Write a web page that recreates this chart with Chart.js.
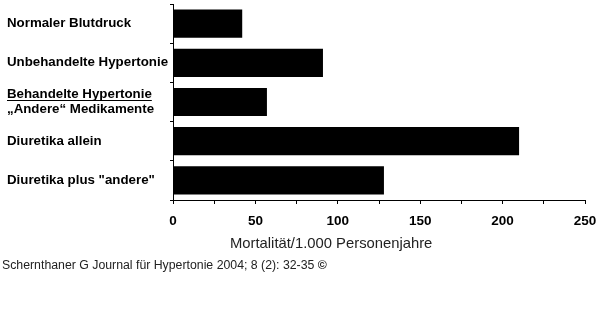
<!DOCTYPE html>
<html>
<head>
<meta charset="utf-8">
<script src="https://cdn.jsdelivr.net/npm/chart.js@4/dist/chart.umd.min.js"></script>
<style>
  html, body { margin: 0; padding: 0; background: #fff; }
  #wrap { position: relative; width: 600px; height: 316px; }
  #axisTitle { position: absolute; left: 230px; top: 235px; font: 14.8px "Liberation Sans", Arial, sans-serif; color: #222; white-space: nowrap; }
  #source { position: absolute; left: 2px; top: 258px; font: 12.3px "Liberation Sans", Arial, sans-serif; color: #222; white-space: nowrap; }
</style>
</head>
<body>
<div id="wrap">
  <canvas id="c" width="600" height="316"></canvas>
  <div id="axisTitle">Mortalität/1.000 Personenjahre</div>
  <div id="source">Schernthaner G Journal für Hypertonie 2004; 8 (2): 32-35 <b>©</b></div>
</div>
<script>
const categories = [
  ["Normaler Blutdruck"],
  ["Unbehandelte Hypertonie"],
  ["Behandelte Hypertonie", "\u201EAndere\u201C Medikamente"],
  ["Diuretika allein"],
  ["Diuretika plus \"andere\""]
];
const mortality = [42, 91, 57, 210, 128];
const xTickLabels = [0, 50, 100, 150, 200, 250];
const underlinedIndex = 2;

const labelSize = 13.3;

const underlinePlugin = {
  id: 'underline',
  afterDraw(chart) {
    const ys = chart.scales.y;
    const ctx = chart.ctx;
    ctx.save();
    ctx.font = "bold " + labelSize + "px 'Liberation Sans', Arial, sans-serif";
    const lineH = labelSize * 1.08;
    const center = ys.getPixelForTick(underlinedIndex);
    const lines = categories[underlinedIndex].length;
    const firstCenter = center - (lines - 1) * lineH / 2;
    const w = ctx.measureText(categories[underlinedIndex][0]).width;
    const yy = Math.round(firstCenter + 5) + 0.5;
    ctx.strokeStyle = '#000';
    ctx.lineWidth = 1;
    ctx.beginPath();
    ctx.moveTo(ys.left, yy);
    ctx.lineTo(ys.left + w, yy);
    ctx.stroke();
    ctx.restore();
  }
};

new Chart(document.getElementById('c'), {
  type: 'bar',
  data: {
    labels: categories,
    datasets: [{
      data: mortality,
      backgroundColor: '#000',
      borderWidth: 0,
      barPercentage: 0.72,
      categoryPercentage: 1.0
    }]
  },
  options: {
    indexAxis: 'y',
    responsive: false,
    animation: false,
    events: [],
    layout: { padding: { top: 4, left: 7, right: 15, bottom: 86 } },
    plugins: { legend: { display: false }, tooltip: { enabled: false } },
    scales: {
      x: {
        min: 0, max: 250,
        afterFit(s) { s.height = 30; s.paddingRight = 0; s.paddingLeft = 0; },
        ticks: {
          stepSize: 25,
          padding: 9,
          color: '#000',
          font: { family: "'Liberation Sans', Arial, sans-serif", size: 13.5, weight: 'bold' },
          maxRotation: 0,
          autoSkip: false,
          callback: (v) => xTickLabels.includes(v) ? String(v) : ''
        },
        grid: { drawOnChartArea: false, drawTicks: true, tickLength: 4, color: '#000' },
        border: { color: '#000', width: 1 }
      },
      y: {
        afterFit(s) { s.width = 166; s.paddingTop = 0; s.paddingBottom = 0; },
        ticks: {
          crossAlign: 'far',
          color: '#000',
          font: { family: "'Liberation Sans', Arial, sans-serif", size: labelSize, weight: 'bold', lineHeight: 1.08 },
          autoSkip: false
        },
        grid: { drawOnChartArea: false, drawTicks: true, tickLength: 3, color: '#000' },
        border: { color: '#000', width: 1 }
      }
    }
  },
  plugins: [underlinePlugin]
});
</script>
</body>
</html>
